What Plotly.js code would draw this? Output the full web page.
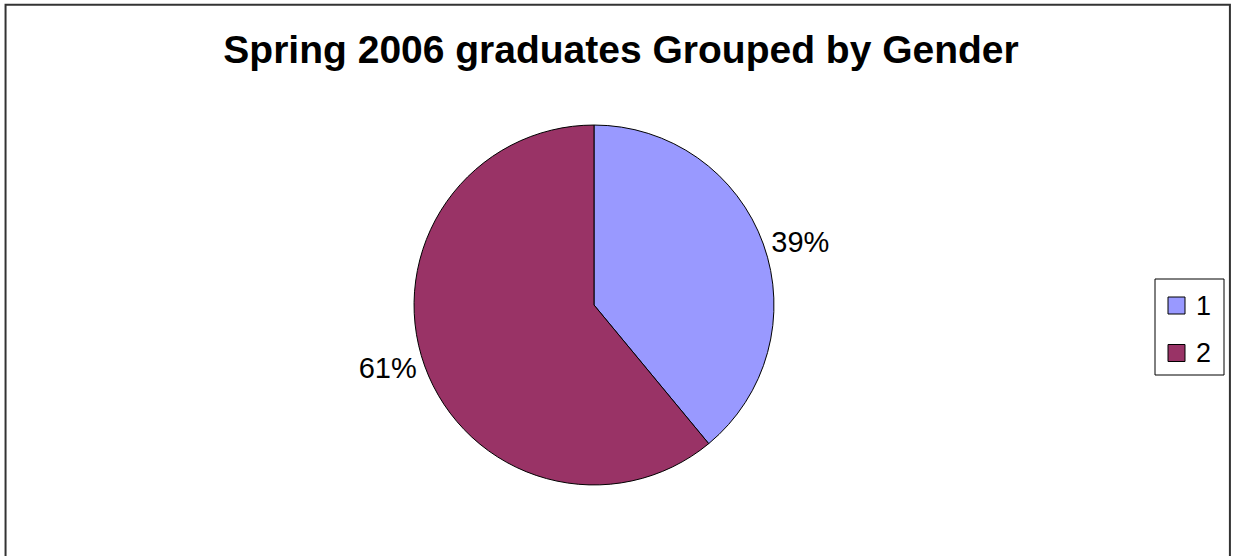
<!DOCTYPE html>
<html>
<head>
<meta charset="utf-8">
<script src="https://cdn.plot.ly/plotly-3.0.1.min.js"></script>
<style>
html,body{margin:0;padding:0;background:#fff;}
#chart{width:1233px;height:556px;}
</style>
</head>
<body>
<div id="chart"></div>
<script>
const categories = ["1", "2"];
const values = [39, 61];
const colors = ["#9999FF", "#993366"];
const titleText = "Spring 2006 graduates Grouped by Gender";

const W = 1233, H = 556;
const FONT = "Liberation Sans, Arial, sans-serif";

const trace = {
  type: "pie",
  labels: categories,
  values: values,
  sort: false,
  direction: "clockwise",
  rotation: 0,
  marker: {colors: colors, line: {color: "#000", width: 1}},
  textposition: "outside",
  texttemplate: "%{percent:.0%}",
  textfont: {family: FONT, size: 29, color: "#000"},
  hoverinfo: "none",
  showlegend: false,
  domain: {x: [0.3358, 0.6277], y: [0.1277, 0.7752]}
};

// Custom legend built from categories/colors
const shapes = [
  {type: "rect", xref: "paper", yref: "paper", x0: 0.0045, x1: 0.9975, y0: -0.05, y1: 0.9915,
   line: {color: "#333", width: 2}},
  {type: "rect", xref: "paper", yref: "paper", x0: 1155 / W, x1: 1224 / W, y0: 1 - 375 / H, y1: 1 - 279 / H,
   line: {color: "#000", width: 1}, fillcolor: "#fff"}
];
const annotations = [];
categories.forEach((c, i) => {
  const top = 297 + i * 47.5;
  shapes.push({type: "rect", xref: "paper", yref: "paper",
    x0: 1168 / W, x1: 1185 / W, y0: 1 - (top + 17) / H, y1: 1 - top / H,
    fillcolor: colors[i], line: {color: "#000", width: 1}});
  annotations.push({xref: "paper", yref: "paper", x: 1194 / W, y: 1 - (top + 8.5) / H,
    xanchor: "left", yanchor: "middle", showarrow: false, text: c,
    font: {family: FONT, size: 27, color: "#000"}});
});

const layout = {
  width: W, height: H,
  margin: {l: 0, r: 0, t: 0, b: 0},
  paper_bgcolor: "#fff",
  title: {text: "<b>" + titleText + "</b>", x: 0.5037, xanchor: "center", y: 0.912, yanchor: "middle",
          font: {family: FONT, size: 39, color: "#000"}},
  showlegend: false,
  shapes: shapes,
  annotations: annotations
};

Plotly.newPlot("chart", [trace], layout, {displayModeBar: false, staticPlot: true});
</script>
</body>
</html>
